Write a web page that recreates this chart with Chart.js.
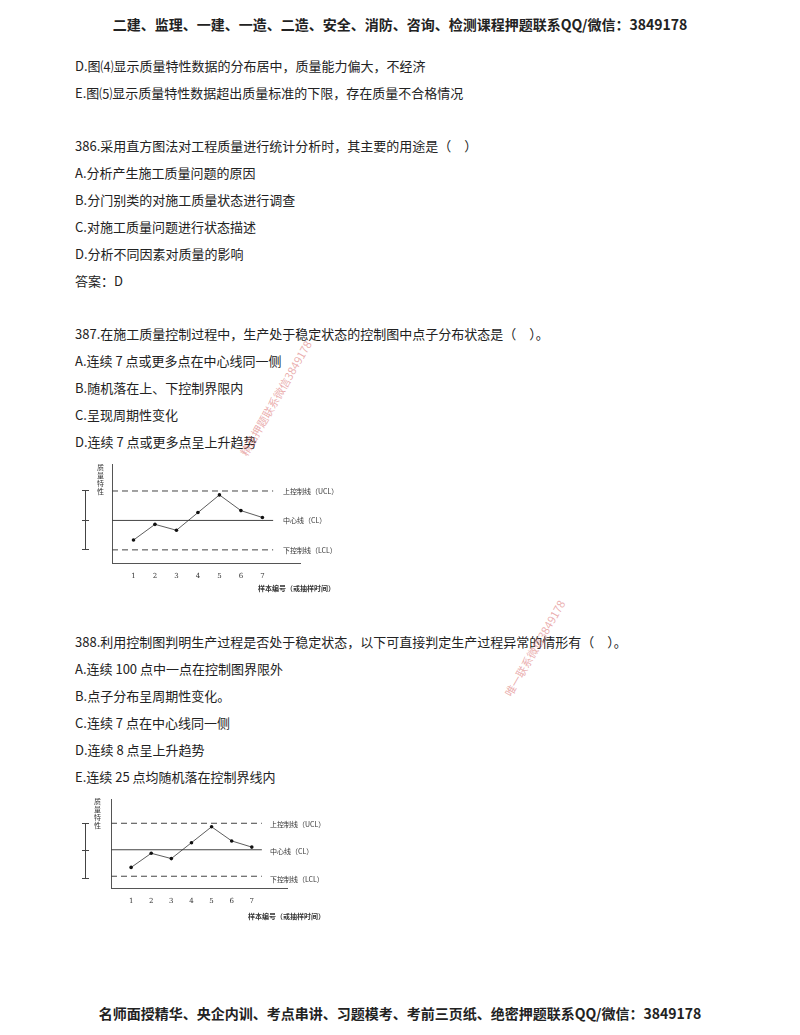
<!DOCTYPE html>
<html><head><meta charset="utf-8">
<script src="https://cdn.jsdelivr.net/npm/chart.js@4/dist/chart.umd.min.js"></script>
<style>
body{margin:0;background:#fff;width:800px;height:1035px;position:relative;font-family:"Noto Sans CJK SC","DejaVu Serif",serif;color:#222;}
.t{position:absolute;left:75px;font-size:13px;white-space:nowrap;}
.h{position:absolute;width:800px;text-align:center;font-size:14px;font-weight:bold;}
.s{position:absolute;font-size:7px;font-family:"Noto Sans CJK SC";color:#333;white-space:nowrap;}
.c{position:absolute;}
.w{position:absolute;color:rgba(220,120,120,0.6);font-size:11px;transform:rotate(-60deg);white-space:nowrap;}
.v{position:absolute;border-left:1px solid #444;}
.k{position:absolute;border-top:1px solid #444;width:7px;}
</style></head><body>
<div class="h" style="top:14px">二建、监理、一建、一造、二造、安全、消防、咨询、检测课程押题联系QQ/微信：3849178</div>
<div class="t" style="top:56px">D.图⑷显示质量特性数据的分布居中，质量能力偏大，不经济</div>
<div class="t" style="top:83px">E.图⑸显示质量特性数据超出质量标准的下限，存在质量不合格情况</div>
<div class="t" style="top:136px">386.采用直方图法对工程质量进行统计分析时，其主要的用途是（　）</div>
<div class="t" style="top:163px">A.分析产生施工质量问题的原因</div>
<div class="t" style="top:190px">B.分门别类的对施工质量状态进行调查</div>
<div class="t" style="top:217px">C.对施工质量问题进行状态描述</div>
<div class="t" style="top:244px">D.分析不同因素对质量的影响</div>
<div class="t" style="top:271px">答案：D</div>
<div class="t" style="top:324px">387.在施工质量控制过程中，生产处于稳定状态的控制图中点子分布状态是（　）。</div>
<div class="t" style="top:351px">A.连续 7 点或更多点在中心线同一侧</div>
<div class="t" style="top:378px">B.随机落在上、下控制界限内</div>
<div class="t" style="top:405px">C.呈现周期性变化</div>
<div class="t" style="top:432px">D.连续 7 点或更多点呈上升趋势</div>
<div class="t" style="top:632px">388.利用控制图判明生产过程是否处于稳定状态，以下可直接判定生产过程异常的情形有（　）。</div>
<div class="t" style="top:659px">A.连续 100 点中一点在控制图界限外</div>
<div class="t" style="top:686px">B.点子分布呈周期性变化。</div>
<div class="t" style="top:713px">C.连续 7 点在中心线同一侧</div>
<div class="t" style="top:740px">D.连续 8 点呈上升趋势</div>
<div class="t" style="top:767px">E.连续 25 点均随机落在控制界线内</div>
<div class="w" style="left:210px;top:390px">精品押题联系微信3849178</div>
<div class="w" style="left:480px;top:640px">唯一联系微信3849178</div>
<div class="h" style="top:1003px">名师面授精华、央企内训、考点串讲、习题模考、考前三页纸、绝密押题联系QQ/微信：3849178</div>

<div class="c" style="left:80px;top:460px;width:300px;height:140px"><canvas id="c1"></canvas></div>
<div class="s" style="left:97px;top:463px;width:8px;line-height:8px;white-space:normal">质量特性</div>
<div class="v" style="left:85px;top:490px;height:59px"></div>
<div class="k" style="left:82px;top:490px"></div><div class="k" style="left:82px;top:520px"></div><div class="k" style="left:82px;top:549px"></div>
<div class="s" style="left:283px;top:486px">上控制线（UCL）</div>
<div class="s" style="left:283px;top:515px">中心线（CL）</div>
<div class="s" style="left:283px;top:545px">下控制线（LCL）</div>
<div class="s" style="left:258px;top:583px;font-weight:bold">样本编号（或抽样时间）</div>

<div class="c" style="left:75px;top:795px;width:300px;height:130px"><canvas id="c2"></canvas></div>
<div class="s" style="left:94px;top:797px;width:8px;line-height:8px;white-space:normal">质量特性</div>
<div class="v" style="left:85px;top:823px;height:55px"></div>
<div class="k" style="left:82px;top:823px"></div><div class="k" style="left:82px;top:850px"></div><div class="k" style="left:82px;top:878px"></div>
<div class="s" style="left:270px;top:819px">上控制线（UCL）</div>
<div class="s" style="left:270px;top:846px">中心线（CL）</div>
<div class="s" style="left:270px;top:874px">下控制线（LCL）</div>
<div class="s" style="left:248px;top:911px;font-weight:bold">样本编号（或抽样时间）</div>

<script>
const samples=[1,2,3,4,5,6,7];
const values=[-2.0,-0.4,-1.0,0.8,2.6,1.0,0.3];
const UCL=3, CL=0, LCL=-3;
const lineStart=0, lineEnd=7.5;
function mk(id,pad){
  const pts=samples.map((s,i)=>({x:s,y:values[i]}));
  const hl=(v,dash)=>({data:[{x:lineStart,y:v},{x:lineEnd,y:v}],showLine:true,borderColor:'#444',borderWidth:1,borderDash:dash,pointRadius:0});
  new Chart(document.getElementById(id),{type:'scatter',
    data:{datasets:[
      {data:pts,showLine:true,borderColor:'#333',borderWidth:0.8,pointRadius:1.8,backgroundColor:'#111',pointBorderWidth:0},
      hl(UCL,[6,4]),hl(CL,[]),hl(LCL,[6,4])]},
    options:{responsive:true,maintainAspectRatio:false,animation:false,
      layout:{padding:pad},
      plugins:{legend:{display:false},tooltip:{enabled:false}},
      scales:{
        x:{type:'linear',min:0,max:8.75,border:{color:'#555'},grid:{display:false},
          afterBuildTicks:a=>{a.ticks=samples.map(v=>({value:v}));},
          ticks:{font:{size:7,family:'DejaVu Serif'},color:'#333',padding:0}},
        y:{min:-4.4,max:5.75,border:{color:'#555'},grid:{display:false},ticks:{display:false}}
      }}});
}
mk('c1',{left:24,right:80,top:3,bottom:20});
mk('c2',{left:28,right:88,top:2,bottom:20});
</script>
</body></html>
